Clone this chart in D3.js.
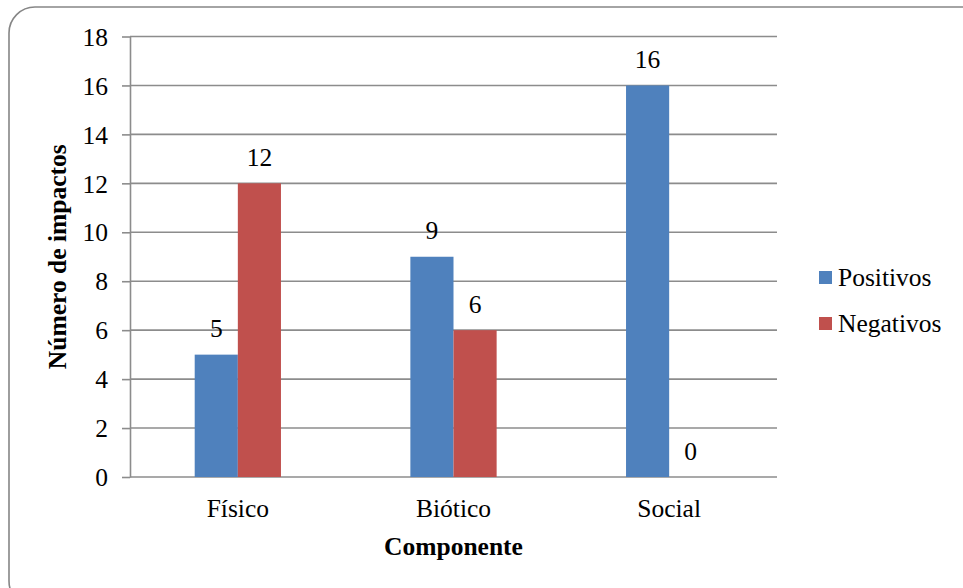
<!DOCTYPE html>
<html>
<head>
<meta charset="utf-8">
<script src="https://cdn.jsdelivr.net/npm/d3@7"></script>
<style>
  html, body { margin: 0; padding: 0; background: #fff; }
  svg { display: block; }
</style>
</head>
<body>
<svg id="chart" width="963" height="588"></svg>
<script>
// Impact counts per environmental component
const categories = ["Físico", "Biótico", "Social"];
const seriesNames = ["Positivos", "Negativos"];
const positivos = [5, 9, 16];
const negativos = [12, 6, 0];
const yTicks = [0, 2, 4, 6, 8, 10, 12, 14, 16, 18];
const colors = ["#4F81BD", "#C0504D"];

const FONT = "Liberation Serif";
const FS = 25.5;
const svg = d3.select("#chart");

// Rounded outer frame
svg.append("rect")
  .attr("x", 9).attr("y", 7)
  .attr("width", 980).attr("height", 600)
  .attr("rx", 26).attr("ry", 26)
  .attr("fill", "#fff")
  .attr("stroke", "#868686")
  .attr("stroke-width", 1.6);

const plot = { left: 130, right: 777, top: 36.5, bottom: 477 };

const x0 = d3.scaleBand()
  .domain(categories)
  .range([plot.left, plot.right])
  .paddingInner(0.6)
  .paddingOuter(0.3);

const x1 = d3.scaleBand()
  .domain(seriesNames)
  .range([0, x0.bandwidth()]);

const y = d3.scaleLinear()
  .domain([0, 18])
  .range([plot.bottom, plot.top]);

// Horizontal gridlines
svg.append("g")
  .selectAll("line")
  .data(yTicks)
  .join("line")
  .attr("x1", plot.left).attr("x2", plot.right)
  .attr("y1", d => y(d)).attr("y2", d => y(d))
  .attr("stroke", "#8c8c8c")
  .attr("stroke-width", 1.6);

// Y axis with outward ticks
const yAxis = svg.append("g")
  .attr("transform", `translate(${plot.left},0)`)
  .call(d3.axisLeft(y).tickValues(yTicks).tickSize(8).tickPadding(14).tickSizeOuter(0))
  .attr("font-family", FONT)
  .attr("font-size", FS);
yAxis.select(".domain").attr("stroke", "#8c8c8c").attr("stroke-width", 1.6);
yAxis.selectAll(".tick line").attr("stroke", "#8c8c8c").attr("stroke-width", 1.6);
yAxis.selectAll(".tick text").attr("fill", "#000").attr("font-family", FONT).attr("dy", "0.34em");

// Bars
const groups = svg.append("g")
  .selectAll("g")
  .data(categories.map((c, i) => ({ c, vals: [positivos[i], negativos[i]] })))
  .join("g")
  .attr("transform", d => `translate(${x0(d.c)},0)`);

groups.selectAll("rect")
  .data(d => d.vals.map((v, j) => ({ key: seriesNames[j], v, j })))
  .join("rect")
  .attr("x", d => x1(d.key))
  .attr("y", d => y(d.v))
  .attr("width", x1.bandwidth())
  .attr("height", d => y(0) - y(d.v))
  .attr("fill", d => colors[d.j]);

// Value labels
groups.selectAll("text")
  .data(d => d.vals.map((v, j) => ({ key: seriesNames[j], v, j })))
  .join("text")
  .attr("x", d => x1(d.key) + x1.bandwidth() / 2)
  .attr("y", d => y(d.v) - 17.5)
  .attr("text-anchor", "middle")
  .attr("font-family", FONT)
  .attr("font-size", FS)
  .text(d => d.v);

// Category labels
svg.append("g")
  .selectAll("text")
  .data(categories)
  .join("text")
  .attr("x", d => x0(d) + x0.bandwidth() / 2)
  .attr("y", 517)
  .attr("text-anchor", "middle")
  .attr("font-family", FONT)
  .attr("font-size", FS)
  .text(d => d);

// Axis titles
svg.append("text")
  .attr("x", 453.5).attr("y", 555)
  .attr("text-anchor", "middle")
  .attr("font-family", FONT)
  .attr("font-size", FS)
  .attr("font-weight", "bold")
  .text("Componente");

svg.append("text")
  .attr("transform", `translate(66,${(plot.top + plot.bottom) / 2}) rotate(-90)`)
  .attr("text-anchor", "middle")
  .attr("font-family", FONT)
  .attr("font-size", FS)
  .attr("font-weight", "bold")
  .text("Número de impactos");

// Legend
const legend = svg.append("g")
  .selectAll("g")
  .data(seriesNames)
  .join("g")
  .attr("transform", (d, i) => `translate(819,${271 + i * 46})`);
legend.append("rect")
  .attr("width", 13).attr("height", 13)
  .attr("fill", (d, i) => colors[i]);
legend.append("text")
  .attr("x", 19).attr("y", 15)
  .attr("font-family", FONT)
  .attr("font-size", FS)
  .text(d => d);
</script>
</body>
</html>
